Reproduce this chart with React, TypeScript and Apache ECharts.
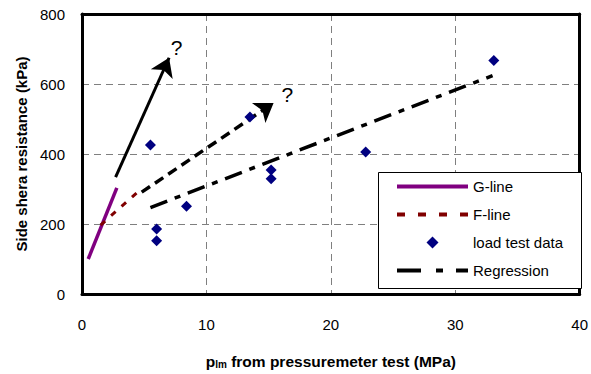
import React, { useEffect, useRef } from "react";
import * as echarts from "echarts";

const xTicks = [0, 10, 20, 30, 40];
const yTicks = [0, 200, 400, 600, 800];

const gLine: number[][] = [[0.5, 100], [2.8, 303]];
const fLine: number[][] = [[1.5, 197], [4.4, 289]];
const loadTestX = [5.5, 6.0, 6.0, 8.4, 13.5, 15.2, 15.2, 22.8, 33.1];
const loadTestY = [426, 186, 152, 251, 506, 354, 329, 406, 667];
const regression: number[][] = [[5.5, 247], [33.0, 624]];
const solidArrow: number[][] = [[2.7, 334], [7.0, 675]];
const dashedArrow: number[][] = [[4.8, 291], [15.4, 546]];
const questionMarks: number[][] = [[7.6, 703], [16.5, 569]];

const FONT = "'Liberation Sans', Arial, sans-serif";

// legend icon shapes (71 wide)
const ICON_G = "path://M0,0H71V4H0Z";
const ICON_F = "path://M0,0h8v4h-8zM21,0h8v4h-8zM42,0h8v4h-8zM63,0h8v4h-8z";
const ICON_D = "path://M6,0L12,6L6,12L0,6Z";
const ICON_R = "path://M0,0h24v4h-24zM39,0h7v4h-7zM59,0h12v4h-12z";

export default function App() {
  const ref = useRef<HTMLDivElement>(null);
  useEffect(() => {
    if (!ref.current) return;
    const chart = echarts.init(ref.current, null, { renderer: "svg" });
    const loadTest = loadTestX.map((x, i) => [x, loadTestY[i]]);
    const split = { show: true, lineStyle: { color: "#7f7f7f", width: 1, type: [7, 5] } };
    const frameAxis = {
      type: "value",
      axisLine: { show: true, onZero: false, lineStyle: { color: "#000", width: 3 } },
      axisTick: { show: false },
      axisLabel: { show: false },
      splitLine: { show: false },
    };
    chart.setOption({
      animation: false,
      textStyle: { fontFamily: FONT },
      grid: { left: 82, right: 8, top: 14, bottom: 80 },
      xAxis: [
        {
          type: "value",
          min: xTicks[0],
          max: xTicks[xTicks.length - 1],
          interval: 10,
          axisLine: { show: true, onZero: false, lineStyle: { color: "#000", width: 3 } },
          axisTick: { show: false },
          axisLabel: { color: "#000", fontSize: 15, margin: 23, fontFamily: FONT },
          splitLine: split,
          name: "{a|p}{b|lm}{a| from pressuremeter test (MPa)}",
          nameLocation: "middle",
          nameGap: 59,
          nameTextStyle: {
            rich: {
              a: { fontSize: 15.5, fontWeight: "bold", color: "#000", fontFamily: FONT },
              b: { fontSize: 10, fontWeight: "bold", color: "#000", fontFamily: FONT, verticalAlign: "bottom" },
            },
          },
        },
        { ...frameAxis, position: "top", min: xTicks[0], max: xTicks[xTicks.length - 1] },
      ],
      yAxis: [
        {
          type: "value",
          min: yTicks[0],
          max: yTicks[yTicks.length - 1],
          interval: 200,
          axisLine: { show: true, onZero: false, lineStyle: { color: "#000", width: 3 } },
          axisTick: { show: false },
          axisLabel: { color: "#000", fontSize: 15, margin: 17, fontFamily: FONT },
          splitLine: split,
          name: "Side shera resistance (kPa)",
          nameLocation: "middle",
          nameGap: 49,
          nameTextStyle: { fontSize: 15, fontWeight: "bold", color: "#000", fontFamily: FONT },
        },
        { ...frameAxis, position: "right", min: yTicks[0], max: yTicks[yTicks.length - 1] },
      ],
      legend: {
        data: [
          { name: "G-line", icon: ICON_G, itemStyle: { color: "#800080" } },
          { name: "F-line", icon: ICON_F, itemStyle: { color: "#800000" } },
          { name: "load test data", icon: ICON_D, itemStyle: { color: "#000080" } },
          { name: "Regression", icon: ICON_R, itemStyle: { color: "#000" } },
        ],
        orient: "vertical",
        left: 397,
        top: 179,
        padding: 0,
        itemWidth: 71,
        itemHeight: 12,
        itemGap: 13,
        z: 20,
        textStyle: { fontSize: 15, color: "#000", fontFamily: FONT },
        selectedMode: false,
      },
      graphic: [
        {
          type: "rect",
          left: 378,
          top: 172,
          z: 10,
          shape: { width: 203, height: 116 },
          style: { fill: "#fff", stroke: "#000", lineWidth: 1 },
        },
      ],
      series: [
        {
          name: "G-line",
          type: "line",
          data: gLine,
          symbol: "none",
          lineStyle: { color: "#800080", width: 3.5 },
          itemStyle: { color: "#800080" },
          z: 3,
        },
        {
          name: "F-line",
          type: "line",
          data: fLine,
          symbol: "none",
          lineStyle: { color: "#800000", width: 3, type: [6, 8] },
          itemStyle: { color: "#800000" },
          z: 3,
        },
        {
          name: "load test data",
          type: "scatter",
          data: loadTest,
          symbol: "diamond",
          symbolSize: 11,
          itemStyle: { color: "#000080", opacity: 1 },
          z: 4,
        },
        {
          name: "Regression",
          type: "line",
          data: regression,
          symbol: "none",
          lineStyle: { color: "#000", width: 3.5, type: [18, 8, 6, 8] },
          itemStyle: { color: "#000" },
          z: 3,
        },
        {
          name: "arrowSolid",
          type: "lines",
          coordinateSystem: "cartesian2d",
          symbol: ["none", "arrow"],
          symbolSize: 18,
          lineStyle: { color: "#000", width: 3, type: "solid", opacity: 1 },
          data: [{ coords: solidArrow }],
          z: 3,
        },
        {
          name: "arrowDashed",
          type: "lines",
          coordinateSystem: "cartesian2d",
          symbol: ["none", "arrow"],
          symbolSize: 18,
          lineStyle: { color: "#000", width: 3.5, type: [10, 6], opacity: 1 },
          data: [{ coords: dashedArrow }],
          z: 3,
        },
        {
          name: "questionMarks",
          type: "scatter",
          data: questionMarks,
          symbolSize: 1,
          itemStyle: { color: "rgba(0,0,0,0)", opacity: 1 },
          silent: true,
          label: {
            show: true,
            position: "inside",
            formatter: "?",
            fontSize: 21,
            color: "#000",
            opacity: 1,
            textBorderWidth: 0,
            fontFamily: FONT,
          },
          z: 3,
        },
      ],
    });
    return () => chart.dispose();
  }, []);
  return <div ref={ref} style={{ width: 591, height: 374, position: "absolute", left: 0, top: 0 }} />;
}
